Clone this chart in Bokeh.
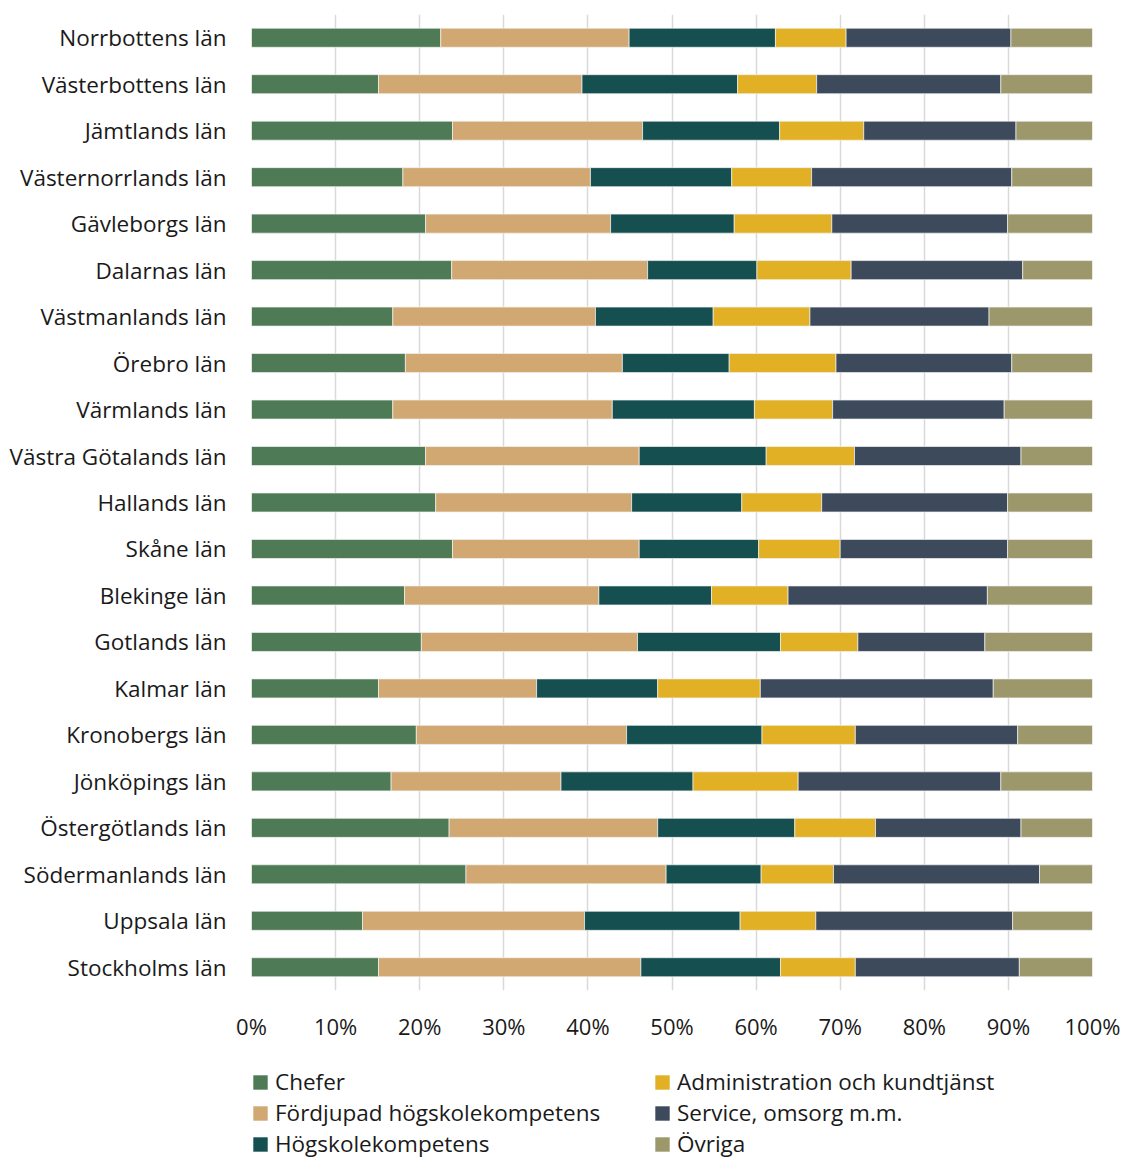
from bokeh.plotting import figure
from bokeh.layouts import column
from bokeh.models import ColumnDataSource, FactorRange, Range1d, FixedTicker, Legend, LegendItem
from bokeh.embed import file_html
from bokeh.resources import INLINE

lan = ["Norrbottens län", "Västerbottens län", "Jämtlands län", "Västernorrlands län",
       "Gävleborgs län", "Dalarnas län", "Västmanlands län", "Örebro län", "Värmlands län",
       "Västra Götalands län", "Hallands län", "Skåne län", "Blekinge län", "Gotlands län",
       "Kalmar län", "Kronobergs län", "Jönköpings län", "Östergötlands län",
       "Södermanlands län", "Uppsala län", "Stockholms län"]

chefer =      [22.5, 15.1, 23.9, 18.0, 20.7, 23.8, 16.8, 18.3, 16.8, 20.7, 21.9, 23.9, 18.2, 20.2, 15.1, 19.6, 16.6, 23.5, 25.5, 13.2, 15.1]
fordjupad =   [22.4, 24.2, 22.6, 22.3, 22.0, 23.3, 24.1, 25.8, 26.1, 25.4, 23.3, 22.2, 23.1, 25.7, 18.8, 25.0, 20.2, 24.8, 23.8, 26.4, 31.2]
hogskole =    [17.4, 18.5, 16.3, 16.8, 14.7, 13.0, 14.0, 12.7, 16.9, 15.1, 13.1, 14.2, 13.4, 17.0, 14.4, 16.1, 15.7, 16.3, 11.3, 18.5, 16.6]
admin =       [8.4, 9.4, 10.0, 9.5, 11.6, 11.2, 11.5, 12.7, 9.3, 10.5, 9.5, 9.7, 9.1, 9.2, 12.2, 11.1, 12.5, 9.6, 8.6, 9.0, 8.9]
service =     [19.6, 21.9, 18.1, 23.8, 20.9, 20.4, 21.3, 20.9, 20.4, 19.8, 22.1, 19.9, 23.7, 15.1, 27.7, 19.3, 24.1, 17.3, 24.5, 23.4, 19.5]
ovriga =      [9.7, 10.9, 9.1, 9.6, 10.1, 8.3, 12.3, 9.6, 10.5, 8.5, 10.1, 10.1, 12.5, 12.8, 11.8, 8.9, 10.9, 8.5, 6.3, 9.5, 8.7]

series_names = ["Chefer", "Fördjupad högskolekompetens", "Högskolekompetens",
                "Administration och kundtjänst", "Service, omsorg m.m.", "Övriga"]
colors = ["#4e7a55", "#d2a872", "#154f50", "#e2b024", "#3d4a5c", "#9d976c"]
ticks = [0, 10, 20, 30, 40, 50, 60, 70, 80, 90, 100]
tick_labels = ["0%", "10%", "20%", "30%", "40%", "50%", "60%", "70%", "80%", "90%", "100%"]

FONT = "Open Sans"
TXT = "#1a1a1a"
cols = ["s0", "s1", "s2", "s3", "s4", "s5"]

src = ColumnDataSource(dict(lan=lan, s0=chefer, s1=fordjupad, s2=hogskole,
                            s3=admin, s4=service, s5=ovriga))

p = figure(width=1124, height=1064, output_backend="svg", toolbar_location=None,
           y_range=FactorRange(factors=list(reversed(lan)), range_padding=0),
           x_range=Range1d(0, 100),
           min_border_left=251, min_border_right=32, min_border_top=14, min_border_bottom=74)
p.outline_line_color = None

p.hbar_stack(cols, y="lan", height=0.41, color=colors, source=src,
             line_color="#f2f2f2", line_width=0.7)

p.xaxis.ticker = FixedTicker(ticks=ticks)
p.xaxis.major_label_overrides = {t: l for t, l in zip(ticks, tick_labels)}
p.xaxis.axis_line_color = None
p.xaxis.major_tick_line_color = None
p.xaxis.minor_tick_line_color = None
p.xaxis.major_label_text_font = FONT
p.xaxis.major_label_text_font_size = "22px"
p.xaxis.major_label_text_color = TXT
p.xaxis.major_label_standoff = 14

p.yaxis.axis_line_color = None
p.yaxis.major_tick_line_color = None
p.yaxis.minor_tick_line_color = None
p.yaxis.major_label_text_font = FONT
p.yaxis.major_label_text_font_size = "22.5px"
p.yaxis.major_label_text_color = TXT
p.yaxis.major_label_standoff = 19

p.xgrid.grid_line_color = "#d9d9d9"
p.xgrid.grid_line_width = 1.5
p.ygrid.grid_line_color = None

# legend panel (a second figure holding only the legend)
q = figure(width=1124, height=96, output_backend="svg", toolbar_location=None,
           x_axis_location=None, y_axis_location=None,
           y_range=FactorRange(factors=list(reversed(lan))), x_range=Range1d(0, 100),
           min_border=0)
q.outline_line_color = None
q.grid.grid_line_color = None
lr = q.hbar_stack(cols, y="lan", height=0.41, color=colors, source=src, line_color=None)
for r in lr:
    r.visible = False

items = [LegendItem(label=series_names[i], renderers=[lr[i]]) for i in range(6)]
legend = Legend(items=items, location=(0, 1), orientation="vertical", ncols=2,
                border_line_color=None, background_fill_alpha=0,
                padding=0, margin=0, spacing=0,
                glyph_width=18, glyph_height=18, label_height=20, label_width=378,
                label_standoff=6, label_text_font=FONT, label_text_font_size="22.5px",
                label_text_color=TXT)
q.add_layout(legend, "center")

layout = column(p, q, spacing=0)
open("out.html", "w").write(file_html(layout, INLINE))
